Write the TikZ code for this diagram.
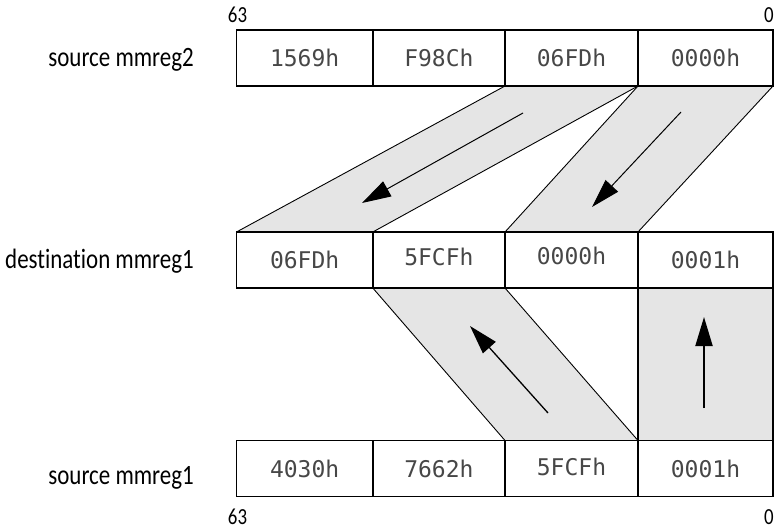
\documentclass[tikz,border=0pt]{standalone}
\usepackage{fontspec}
\setmainfont{Carlito}
\newfontfamily\labelfont[FakeStretch=0.82,Ligatures=NoCommon]{Carlito}
\newfontfamily\cellfont{DejaVu Sans Mono}
\usetikzlibrary{arrows.meta,backgrounds}
\definecolor{bandgray}{gray}{0.9}
\definecolor{celltext}{gray}{0.28}
\begin{document}
\begin{tikzpicture}[x=1pt,y=-1pt,
  cell/.style={draw=black, line width=1.8pt, minimum height=56pt, minimum width=#1,
    inner sep=0pt, outer sep=0pt, font=\cellfont\fontsize{23}{23}\selectfont, text=celltext},
  reglabel/.style={anchor=base east, inner sep=0pt, font=\labelfont\fontsize{28}{28}\selectfont},
  bitlabel/.style={anchor=base, inner sep=0pt, font=\labelfont\fontsize{23}{23}\selectfont},
  band/.style={fill=bandgray},
  bandedge/.style={line width=0.9pt},
  movearrow/.style={-{Triangle[length=29pt,width=17pt]}}
]
\useasboundingbox (0,0) rectangle (776,530);

% register cells
\node[cell=136.3pt] (t1) at (304.65,58) {1569h};
\node[cell=132.2pt] (t2) at (438.9,58) {F98Ch};
\node[cell=133pt]   (t3) at (571.5,58) {06FDh};
\node[cell=135pt]   (t4) at (705.5,58) {0000h};

\node[cell=136.3pt] (m1) at (304.65,260) {06FDh};
\node[cell=132.2pt] (m2) at (438.9,260) {\raisebox{6pt}{5FCFh}};
\node[cell=133pt]   (m3) at (571.5,260) {\raisebox{8pt}{0000h}};
\node[cell=135pt]   (m4) at (705.5,260) {0001h};

\node[cell=136.3pt] (b1) at (304.65,468.5) {4030h};
\node[cell=132.2pt] (b2) at (438.9,468.5) {7662h};
\node[cell=133pt]   (b3) at (571.5,468.5) {\raisebox{3pt}{5FCFh}};
\node[cell=135pt]   (b4) at (705.5,468.5) {0001h};

% register names
\node[reglabel] (l1) at (194,66.5) {source mmreg2};
\node[reglabel] (l2) at (194,268) {destination mmreg1};
\node[reglabel] (l3) at (194,484.5) {source mmreg1};

% bit numbers
\node[bitlabel] (h1) at (237.5,22.5) {63};
\node[bitlabel] (z1) at (769,22.5) {0};
\node[bitlabel] (h2) at (237.5,524) {63};
\node[bitlabel] (z2) at (769,524) {0};

% bands
\begin{scope}[on background layer]
  \fill[band] (t3.south west) -- (t3.south east) -- (m1.north east) -- (m1.north west) -- cycle;
  \draw[bandedge] (t3.south west) -- (m1.north west);
  \draw[bandedge] (t3.south east) -- (m1.north east);

  \fill[band] (t4.south west) -- (t4.south east) -- (m3.north east) -- (m3.north west) -- cycle;
  \draw[bandedge] (t4.south west) -- (m3.north west);
  \draw[bandedge] (t4.south east) -- (m3.north east);

  \fill[band] (m2.south west) -- (m2.south east) -- (b3.north east) -- (b3.north west) -- cycle;
  \draw[bandedge] (m2.south west) -- (b3.north west);
  \draw[bandedge] (m2.south east) -- (b3.north east);

  \fill[band] (m4.south west) rectangle (b4.north east);
  \draw[line width=1.8pt] (m4.south west) -- (b4.north west);
  \draw[line width=1.8pt] (m4.south east) -- (b4.north east);
\end{scope}

% arrows
\coordinate (a1s) at (523,113);
\coordinate (a1e) at (362,203);
\coordinate (a2s) at (681,112);
\coordinate (a2e) at (592,207);
\coordinate (a3s) at (548,413);
\coordinate (a3e) at (470,326);
\coordinate (a4s) at (704,408);
\coordinate (a4e) at (704,317);
\draw[movearrow, line width=1pt] (a1s) -- (a1e);
\draw[movearrow, line width=1pt] (a2s) -- (a2e);
\draw[movearrow, line width=1.3pt] (a3s) -- (a3e);
\draw[movearrow, line width=2pt] (a4s) -- (a4e);
\end{tikzpicture}
\end{document}
